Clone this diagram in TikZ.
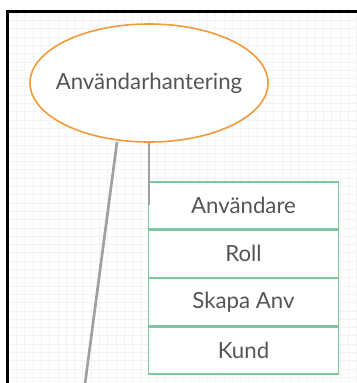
\documentclass[tikz,border=0pt]{standalone}
\usepackage{fontspec}
\setmainfont{Lato}
\usetikzlibrary{shapes.geometric,positioning}
\definecolor{usecaseorange}{RGB}{243,153,58}
\definecolor{tablegreen}{RGB}{125,200,160}
\definecolor{linegray}{RGB}{160,160,160}
\definecolor{textgray}{RGB}{85,85,85}
\definecolor{gridgray}{RGB}{243,243,243}
\tikzset{
	usecase/.style={ellipse,draw=usecaseorange,line width=1.2pt,fill=white,
		minimum width=178.5pt,minimum height=88.5pt,inner xsep=-10pt,inner ysep=0pt},
	row/.style={rectangle,draw=tablegreen,line width=1pt,fill=white,
		minimum width=142.5pt,minimum height=35.25pt,inner sep=0pt},
	link/.style={draw=linegray,line width=2pt},
}
\begin{document}
\begin{tikzpicture}[x=0.75pt,y=-0.75pt,font=\fontsize{16.7}{19}\selectfont,text=textgray]
			\useasboundingbox (0,0) rectangle (357,383);
			%Background grid
			\foreach \i in {0,...,42} {
				\draw[gridgray,line width=0.4pt] (8+8.3*\i,12) -- (8+8.3*\i,383);
			}
			\foreach \j in {0,...,45} {
				\draw[gridgray,line width=0.4pt] (8,12+8.3*\j) -- (357,12+8.3*\j);
			}
			%Frame
			\draw[black,line width=1.6pt] (7.5,383) -- (7.5,11.5) -- (357,11.5);
			%The use case
			\node [usecase] (hantering) at (149,83) {Användarhantering};
			%The table
			\node [row] (anvandare) at (243.5,205.5) {Användare};
			\node [row,below=0pt of anvandare] (roll) {Roll};
			\node [row,below=0pt of roll] (skapa) {Skapa Anv};
			\node [row,below=0pt of skapa] (kund) {Kund};
			%Connectors
			\coordinate (down) at (85,384);
			\coordinate (tableend) at (149,205);
			\draw [link] (hantering.south) ++(-32,-1) coordinate (leftstart) (leftstart) -- (down);
			\draw [link] (hantering.south) -- (tableend);
			\end{tikzpicture}
\end{document}
